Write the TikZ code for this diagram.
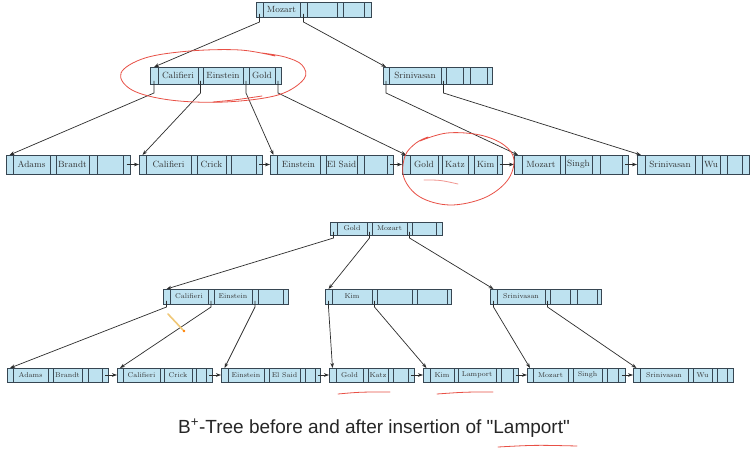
\documentclass[tikz,border=0pt]{standalone}
\usepackage{fontspec}
\newfontfamily\capfont{Liberation Sans}
\usetikzlibrary{arrows.meta}
\definecolor{cellfill}{RGB}{190,226,240}
\definecolor{cellline}{RGB}{55,70,82}
\definecolor{edgecol}{RGB}{45,45,45}
\definecolor{annotred}{RGB}{232,80,70}
\definecolor{pencil}{RGB}{240,200,120}
\tikzset{
  bcell/.style={draw=cellline, fill=cellfill, line width=0.8pt, inner sep=0pt, outer sep=0pt,
    anchor=north west, text=black!80},
  bedge/.style={draw=edgecol, line width=0.7pt, -{Stealth[length=5pt,width=3.6pt]}},
  annot/.style={draw=annotred, line width=0.8pt, line cap=round, line join=round},
}
\newcommand\topf{\fontsize{9}{10}\selectfont}
\newcommand\botf{\fontsize{7}{8}\selectfont}
% #1 name, #2 left x, #3 top y, #4 height, #5 font, #6 list width/text
\newcommand\bnode[6]{%
  \gdef\bx{#2}%
  \foreach \kw/\ktxt [count=\i] in {#6}{%
    \node[bcell, font=#5, minimum width=\kw pt, minimum height=#4pt] (#1-\i) at (\bx,#3) {\ktxt};
    \pgfmathsetmacro\nx{\bx+\kw}\global\let\bx\nx
  }}
% pointer connector: #1 source cell, #2 drop, #3 target cell
\newcommand\ptr[3]{\draw[bedge] ([yshift=3pt]#1.south) -- ++(0,#2) -- (#3.north);}
\newcommand\nxt[2]{\draw[bedge] (#1.center) -- (#2.west);}
\begin{document}
\begin{tikzpicture}[x=1pt,y=-1pt]
\useasboundingbox[fill=white] (0,0) rectangle (756,449);
% ---------------- before insertion ----------------
\bnode{ra}{256}{2}{15}{\topf}{7/{},37/Mozart,7/{},30/{},6/{},21/{},7/{}}
\bnode{ia}{150}{67}{17}{\topf}{8/{},40/Califieri,5/{},40/Einstein,6/{},26/Gold,6/{}}
\bnode{ib}{383}{67}{17}{\topf}{6/{},52/Srinivasan,5/{},17/{},7/{},17/{},5/{}}
\bnode{la}{6}{155}{19}{\topf}{7/{},37/Adams,6/{},33/Brandt,8/{},26/{},7/{}}
\bnode{lb}{139}{155}{19}{\topf}{7/{},45/Califieri,6/{},29/Crick,5/{},25/{},6/{}}
\bnode{lc}{270}{155}{19}{\topf}{7/{},43/Einstein,6/{},31/El Said,7/{},23/{},6/{}}
\bnode{ld}{402}{155}{19}{\topf}{8/{},28/Gold,4/{},26/Katz,6/{},23/Kim,5/{}}
\bnode{le}{514}{155}{19}{\topf}{8/{},38/Mozart,5/{},27/Singh,8/{},22/{},6/{}}
\bnode{lf}{637}{155}{19}{\topf}{8/{},50/Srinivasan,7/{},18/Wu,7/{},15/{},7/{}}
\ptr{ra-1}{8}{ia-1}
\ptr{ra-3}{8}{ib-1}
\ptr{ia-1}{12}{la-1}
\ptr{ia-3}{12}{lb-1}
\ptr{ia-5}{12}{lc-1}
\ptr{ia-7}{12}{ld-1}
\ptr{ib-1}{12}{le-1}
\ptr{ib-3}{12}{lf-1}
\nxt{la-7}{lb-1}
\nxt{lb-7}{lc-1}
\nxt{lc-7}{ld-1}
\nxt{ld-7}{le-1}
\nxt{le-7}{lf-1}
% ---------------- after insertion ----------------
\bnode{rb}{330}{222}{13}{\botf}{7/{},30/Gold,5/{},35/Mozart,5/{},24/{},6/{}}
\bnode{ja}{163}{289}{15}{\botf}{7/{},38/Califieri,6/{},38/Einstein,6/{},25/{},5/{}}
\bnode{jb}{325}{289}{15}{\botf}{7/{},40/Kim,5/{},35/{},5/{},30/{},4/{}}
\bnode{jc}{490}{289}{15}{\botf}{7/{},48/Srinivasan,5/{},20/{},7/{},20/{},4/{}}
\bnode{ma}{7}{368}{14}{\botf}{6/{},35/Adams,5/{},29/Brandt,6/{},14/{},6/{}}
\bnode{mb}{117}{368}{14}{\botf}{6/{},37/Califieri,4/{},28/Crick,4/{},10/{},6/{}}
\bnode{mc}{221}{368}{14}{\botf}{7/{},36/Einstein,5/{},31/El Said,5/{},10/{},5/{}}
\bnode{md}{329}{368}{14}{\botf}{7/{},27/Gold,5/{},20/Katz,5/{},15/{},6/{}}
\bnode{me}{423}{368}{14}{\botf}{7/{},24/Kim,4/{},38/Lamport,5/{},12/{},5/{}}
\bnode{mf}{527}{368}{14}{\botf}{6/{},35/Mozart,5/{},29/Singh,5/{},11/{},7/{}}
\bnode{mg}{633}{368}{14}{\botf}{7/{},48/Srinivasan,5/{},19/Wu,5/{},10/{},6/{}}
\ptr{rb-1}{6}{ja-1}
\ptr{rb-3}{6}{jb-1}
\ptr{rb-5}{6}{jc-1}
\ptr{ja-1}{6}{ma-1}
\ptr{ja-3}{6}{mb-1}
\ptr{ja-5}{6}{mc-1}
\ptr{jb-1}{6}{md-1}
\ptr{jb-3}{6}{me-1}
\ptr{jc-1}{6}{mf-1}
\ptr{jc-3}{6}{mg-1}
\nxt{ma-7}{mb-1}
\nxt{mb-7}{mc-1}
\nxt{mc-7}{md-1}
\nxt{md-7}{me-1}
\nxt{me-7}{mf-1}
\nxt{mf-7}{mg-1}
% ---------------- caption ----------------
\node[font=\capfont\fontsize{19}{22}\selectfont, text=black!85, anchor=base] (caption) at (374,433)
  {B\textsuperscript{+}-Tree before and after insertion of "Lamport"};
% ---------------- hand-drawn annotations ----------------
\draw[annot] plot[smooth, tension=0.6] coordinates {(275,56) (240,50) (190,51) (145,58) (121,73) (132,90) (170,100) (225,102) (278,95) (304,79) (302,65) (285,57) (262,53)};
\draw[annot] (213,102) .. controls (235,100) .. (262,96);
\draw[annot] plot[smooth, tension=0.6] coordinates {(420,141) (447,133) (480,135) (504,145) (514,160) (507,181) (484,198) (450,205) (420,197) (404,178) (405,156) (416,143) (428,137)};
\draw[annot, draw=annotred!60] (424,180) .. controls (440,180) .. (458,184);
\draw[annot] (338,394) .. controls (360,392) .. (390,392);
\draw[annot] (437,394) .. controls (465,392) .. (493,392);
\draw[annot] (498,447) .. controls (535,445) .. (577,446);
\draw[draw=pencil, line width=1.6pt, line cap=round] (168,314) -- (183,330);
\fill[orange] (184,331) circle (1.3pt);
\end{tikzpicture}
\end{document}
